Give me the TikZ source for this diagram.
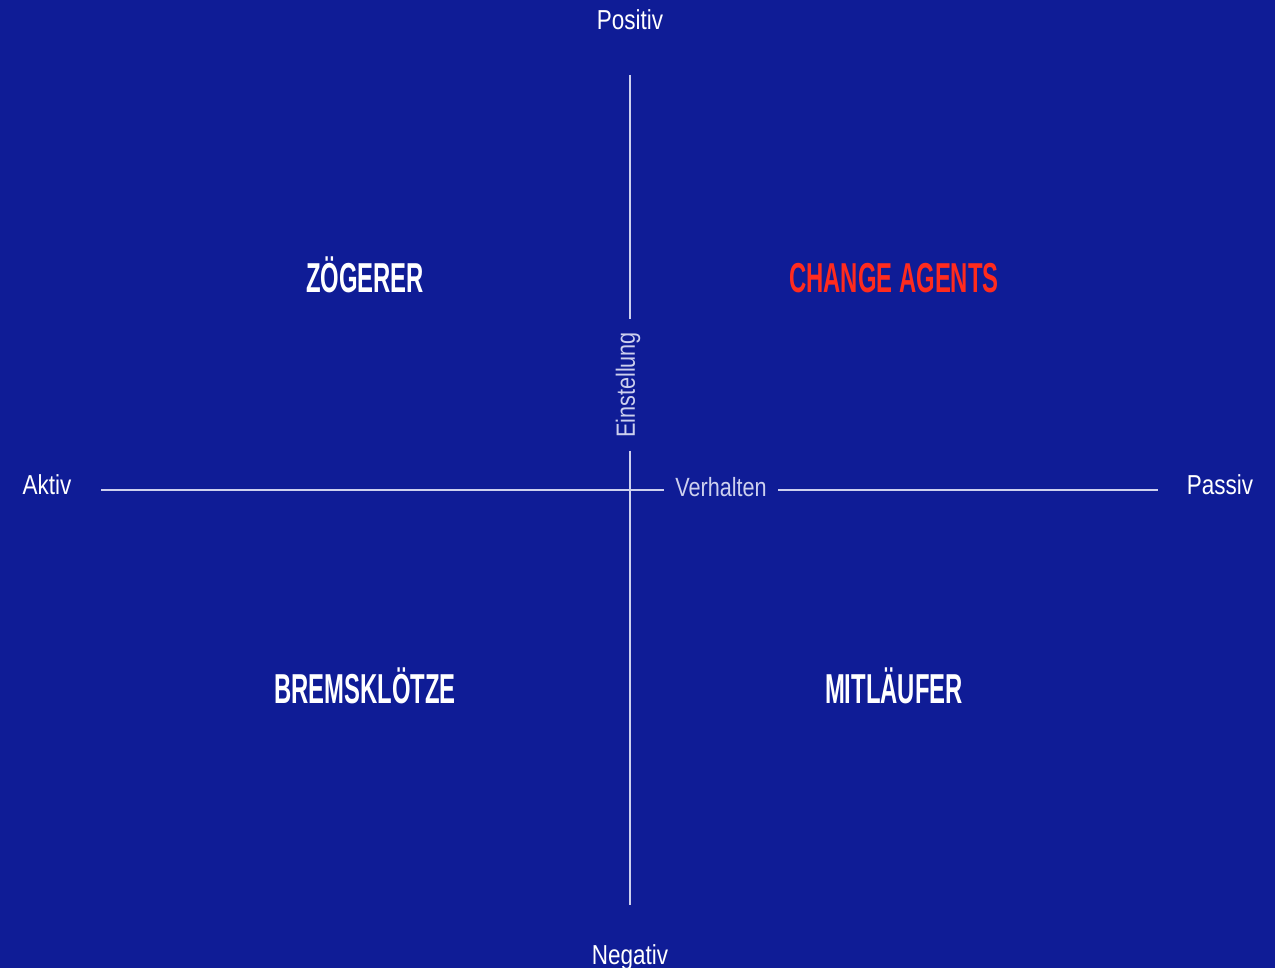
\documentclass[tikz,border=0pt]{standalone}
\usepackage{fontspec}
\newfontfamily\axisfont{Liberation Sans}[FakeStretch=0.82]
\newfontfamily\quadfont{Liberation Sans}[FakeStretch=0.57]
\definecolor{bgblue}{HTML}{0F1C96}
\definecolor{agentred}{HTML}{FF2B1E}
\definecolor{axisline}{HTML}{CDD0EE}

\begin{document}
\begin{tikzpicture}[x=0.01cm, y=-0.01cm,
    quadlabel/.style={anchor=base, text=white, font=\quadfont\bfseries\fontsize{11.9}{13}\selectfont},
    endlabel/.style={anchor=base, text=white, font=\axisfont\fontsize{7.8}{9}\selectfont},
    axislabel/.style={text=axisline, font=\axisfont\fontsize{7.5}{9}\selectfont},
    axis/.style={draw=axisline, line width=0.45pt}]
    % Background
    \fill[bgblue] (0,0) rectangle (1275,968);
    \useasboundingbox (0,0) rectangle (1275,968);

    % Axis ends
    \coordinate (ytop) at (630,75);
    \coordinate (ybot) at (630,905);
    \coordinate (xleft) at (101,490);
    \coordinate (xright) at (1158,490);

    % Axis labels
    \node[axislabel, rotate=90, inner xsep=0.12cm] (einst) at (628,385) {Einstellung};
    \node[axislabel, anchor=base, inner xsep=0.11cm] (verh) at (721,497) {Verhalten};

    % Draw the axes
    \draw[axis] (ytop) -- (einst.east -| ytop);
    \draw[axis] (einst.west -| ybot) -- (ybot);
    \draw[axis] (xleft) -- (verh.west |- xleft);
    \draw[axis] (verh.east |- xright) -- (xright);

    % End labels
    \node[endlabel] (positiv) at (630,30) {Positiv};
    \node[endlabel] (negativ) at (630,965) {Negativ};
    \node[endlabel] (aktiv) at (47,495) {Aktiv};
    \node[endlabel] (passiv) at (1220,495) {Passiv};

    % Quadrants
    \node[quadlabel] (zoegerer) at (365,293) {ZÖGERER};
    \node[quadlabel, text=agentred] (agents) at (894,293) {CHANGE AGENTS};
    \node[quadlabel] (bremse) at (365,704) {BREMSKLÖTZE};
    \node[quadlabel] (mitlaeufer) at (894,704) {MITLÄUFER};
\end{tikzpicture}
\end{document}
